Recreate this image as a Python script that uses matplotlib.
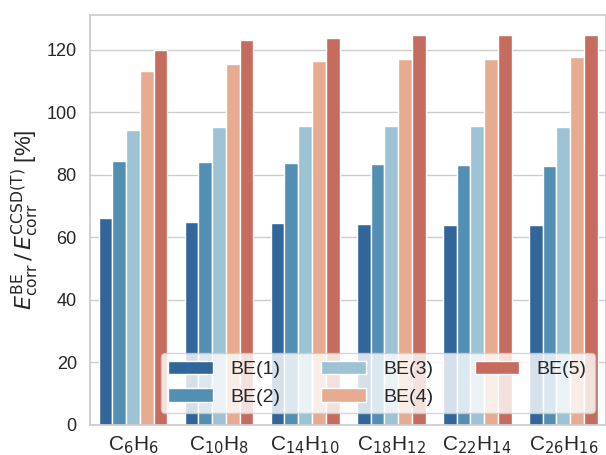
import numpy as np
import pandas as pd
import matplotlib
matplotlib.use('Agg')
import matplotlib.pyplot as plt
import seaborn as sns

molecules = [r'C$_6$H$_6$', r'C$_{10}$H$_8$', r'C$_{14}$H$_{10}$',
             r'C$_{18}$H$_{12}$', r'C$_{22}$H$_{14}$', r'C$_{26}$H$_{16}$']
methods = ['BE(1)', 'BE(2)', 'BE(3)', 'BE(4)', 'BE(5)']

be1 = [66.1, 64.8, 64.5, 64.2, 63.8, 63.8]
be2 = [84.3, 83.9, 83.6, 83.3, 83.0, 82.7]
be3 = [94.2, 95.4, 95.7, 95.7, 95.7, 95.4]
be4 = [113.3, 115.5, 116.5, 117.1, 117.1, 117.5]
be5 = [120.0, 122.9, 123.8, 124.5, 124.8, 124.8]

colors = ['#2166ac', '#4393c3', '#92c5de', '#f4a582', '#d6604d']


def build_frame():
    rows = []
    for name, vals in zip(methods, [be1, be2, be3, be4, be5]):
        for mol, v in zip(molecules, vals):
            rows.append({'molecule': mol, 'method': name, 'ratio': v})
    return pd.DataFrame(rows)


sns.set_theme(style='whitegrid')
plt.rcParams['font.family'] = ['Liberation Sans', 'DejaVu Sans']

df = build_frame()

fig = plt.figure(figsize=(6.06, 4.55), dpi=100)
ax = fig.add_axes([0.1485, 0.066, 0.852, 0.901])
sns.barplot(data=df, x='molecule', y='ratio', hue='method', palette=colors, ax=ax)

ax.set_xlabel('')
ax.set_ylabel(r'$E^{\rm BE}_{\rm corr}\,/\,E^{\rm CCSD(T)}_{\rm corr}$ [%]', fontsize=16)
ax.tick_params(axis='y', labelsize=13)
ax.tick_params(axis='x', labelsize=15, pad=1)
ax.legend(ncol=3, loc='lower right', fontsize=14, handlelength=2.3, handletextpad=0.9,
          columnspacing=2.1, borderaxespad=0.6, framealpha=0.8)

fig.savefig('out.png', dpi=100)
